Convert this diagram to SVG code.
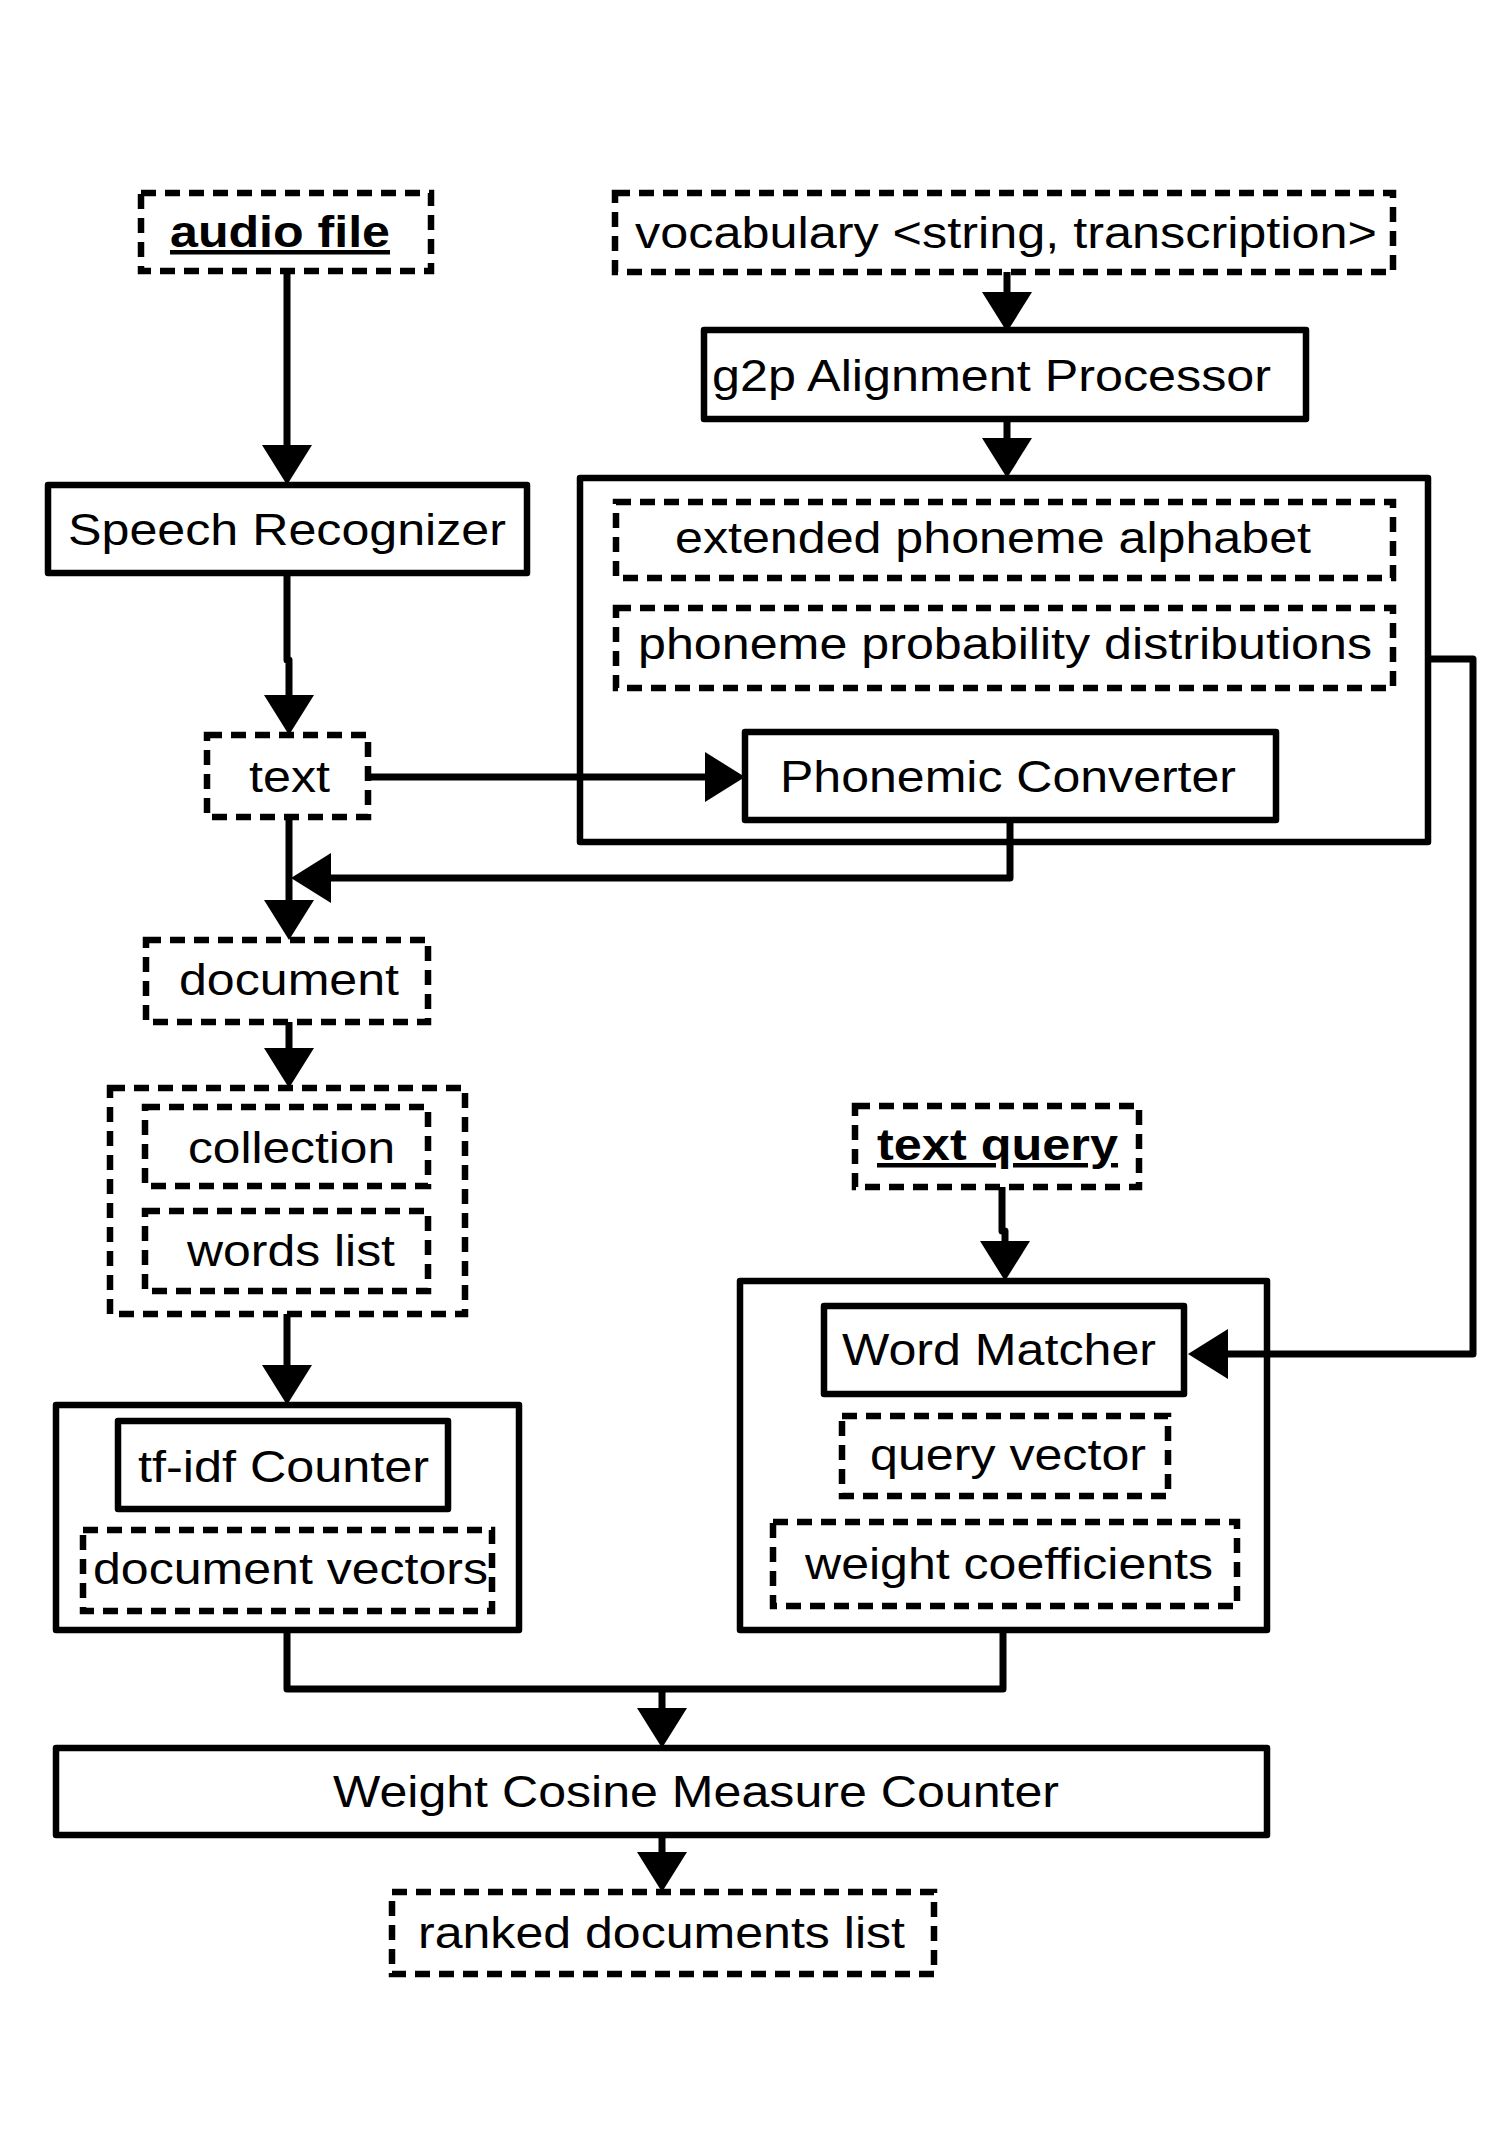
<svg xmlns="http://www.w3.org/2000/svg" width="1512" height="2138" viewBox="0 0 1512 2138">
<style>
.solid{fill:#fff;stroke:#000;stroke-width:6.5;stroke-linejoin:round}
.dash{fill:none;stroke:#000;stroke-width:6.5;stroke-dasharray:15 9}
.t{font-family:"Liberation Sans",Arial,sans-serif;font-size:45px;fill:#000}
.b{font-family:"Liberation Sans",Arial,sans-serif;font-size:45px;font-weight:bold;fill:#000;text-decoration:underline}
.c{fill:none;stroke:#000;stroke-width:7;stroke-linejoin:round}
</style>
<defs>
<marker id="ah" markerUnits="userSpaceOnUse" markerWidth="40" markerHeight="50" viewBox="0 0 40 50" refX="0" refY="25" orient="auto">
<path d="M0,0 L40,25 L0,50 Z" fill="#000"/>
</marker>
</defs>
<rect width="1512" height="2138" fill="#fff"/>
<g id="n-audio"><rect class="dash" x="141" y="193" width="290" height="78"/><text class="b" x="170" y="247" textLength="220" lengthAdjust="spacingAndGlyphs">audio file</text></g>
<g id="n-vocab"><rect class="dash" x="615" y="193" width="778" height="79"/><text class="t" x="635" y="248" textLength="742" lengthAdjust="spacingAndGlyphs">vocabulary &lt;string, transcription&gt;</text></g>
<g id="n-g2p"><rect class="solid" x="704" y="330" width="602" height="89"/><text class="t" x="712" y="391" textLength="559" lengthAdjust="spacingAndGlyphs">g2p Alignment Processor</text></g>
<g id="n-speech"><rect class="solid" x="48" y="485" width="479" height="88"/><text class="t" x="68" y="545" textLength="438" lengthAdjust="spacingAndGlyphs">Speech Recognizer</text></g>
<g id="n-phon"><rect class="solid" x="580" y="478" width="848" height="364"/></g>
<g id="n-ext"><rect class="dash" x="616" y="502" width="777" height="76"/><text class="t" x="675" y="553" textLength="636" lengthAdjust="spacingAndGlyphs">extended phoneme alphabet</text></g>
<g id="n-ppd"><rect class="dash" x="616" y="608" width="777" height="80"/><text class="t" x="638" y="659" textLength="734" lengthAdjust="spacingAndGlyphs">phoneme probability distributions</text></g>
<g id="n-pc"><rect class="solid" x="745" y="732" width="531" height="88"/><text class="t" x="780" y="792" textLength="456" lengthAdjust="spacingAndGlyphs">Phonemic Converter</text></g>
<g id="n-text"><rect class="dash" x="207" y="735" width="161" height="82"/><text class="t" x="249" y="792" textLength="81" lengthAdjust="spacingAndGlyphs">text</text></g>
<g id="n-document"><rect class="dash" x="146" y="940" width="282" height="82"/><text class="t" x="179" y="995" textLength="220" lengthAdjust="spacingAndGlyphs">document</text></g>
<g id="n-group"><rect class="dash" x="110" y="1088" width="355" height="226"/></g>
<g id="n-collection"><rect class="dash" x="145" y="1107" width="283" height="79"/><text class="t" x="188" y="1163" textLength="207" lengthAdjust="spacingAndGlyphs">collection</text></g>
<g id="n-words"><rect class="dash" x="145" y="1211" width="283" height="80"/><text class="t" x="187" y="1266" textLength="208" lengthAdjust="spacingAndGlyphs">words list</text></g>
<g id="n-tfidfbox"><rect class="solid" x="56" y="1405" width="463" height="225"/></g>
<g id="n-tfidf"><rect class="solid" x="118" y="1421" width="330" height="88"/><text class="t" x="138" y="1482" textLength="291" lengthAdjust="spacingAndGlyphs">tf-idf Counter</text></g>
<g id="n-docvec"><rect class="dash" x="83" y="1530" width="409" height="81"/><text class="t" x="93" y="1584" textLength="395" lengthAdjust="spacingAndGlyphs">document vectors</text></g>
<g id="n-query"><rect class="dash" x="855" y="1106" width="284" height="81"/><text class="b" x="877" y="1160" textLength="241" lengthAdjust="spacingAndGlyphs">text query</text></g>
<g id="n-wmbox"><rect class="solid" x="740" y="1281" width="527" height="349"/></g>
<g id="n-wm"><rect class="solid" x="824" y="1306" width="360" height="88"/><text class="t" x="842" y="1365" textLength="314" lengthAdjust="spacingAndGlyphs">Word Matcher</text></g>
<g id="n-qv"><rect class="dash" x="842" y="1416" width="326" height="80"/><text class="t" x="870" y="1470" textLength="276" lengthAdjust="spacingAndGlyphs">query vector</text></g>
<g id="n-wc"><rect class="dash" x="773" y="1522" width="464" height="84"/><text class="t" x="805" y="1579" textLength="408" lengthAdjust="spacingAndGlyphs">weight coefficients</text></g>
<g id="n-wcmc"><rect class="solid" x="56" y="1748" width="1211" height="87"/><text class="t" x="333" y="1807" textLength="726" lengthAdjust="spacingAndGlyphs">Weight Cosine Measure Counter</text></g>
<g id="n-ranked"><rect class="dash" x="392" y="1892" width="542" height="82"/><text class="t" x="418" y="1948" textLength="487" lengthAdjust="spacingAndGlyphs">ranked documents list</text></g>
<g id="connectors">
<path class="c" d="M287,272 V445" marker-end="url(#ah)"/>
<path class="c" d="M1007,272 V292" marker-end="url(#ah)"/>
<path class="c" d="M1007,419 V438" marker-end="url(#ah)"/>
<path class="c" d="M287,573 V660 H289 V695" marker-end="url(#ah)"/>
<path class="c" d="M368,777 H705" marker-end="url(#ah)"/>
<path class="c" d="M1010,820 V878 H331" marker-end="url(#ah)"/>
<path class="c" d="M289,817 V900" marker-end="url(#ah)"/>
<path class="c" d="M289,1022 V1048" marker-end="url(#ah)"/>
<path class="c" d="M287,1314 V1365" marker-end="url(#ah)"/>
<path class="c" d="M1428,659 H1473 V1354 H1228" marker-end="url(#ah)"/>
<path class="c" d="M1002,1187 V1231 H1005 V1241" marker-end="url(#ah)"/>
<path class="c" d="M287,1630 V1689 H1003 V1630"/>
<path class="c" d="M662,1689 V1708" marker-end="url(#ah)"/>
<path class="c" d="M662,1835 V1852" marker-end="url(#ah)"/>
</g>
</svg>
